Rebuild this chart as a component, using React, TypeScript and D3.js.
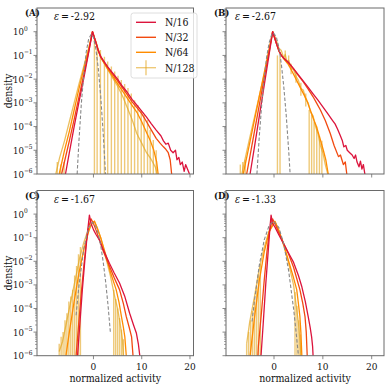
import React from 'react';
import * as d3 from 'd3';

type Pt = [number, number];
type Bar = [number, number, number];

const SERIES_NAMES = ['N/16', 'N/32', 'N/64', 'N/128'];
const SERIES_COLORS = ['#dc143c', '#f24a10', '#ff8c00', '#e3a51e'];
const PANEL_TAGS = ['(A)', '(B)', '(C)', '(D)'];
const EPSILONS = ['-2.92', '-2.67', '-1.67', '-1.33'];
const X_TICKS = [0, 10, 20];
const Y_EXPONENTS = [-6, -5, -4, -3, -2, -1, 0];

// ---- panel A (eps = -2.92), [activity, density]
const A_N16: Pt[] = [
  [-5.8, 1e-6], [-5.0, 7.9e-6], [-4.0, 1e-4], [-3.0, 1.1e-3], [-2.0, 1.1e-2], [-1.0, 0.13], [-0.2, 1.0],
  [0.5, 0.35], [1.0, 0.16], [1.5, 8.9e-2], [2.0, 6.3e-2], [3.0, 3.2e-2], [4.0, 1.8e-2], [5.0, 1.0e-2],
  [6.0, 5.0e-3], [7.0, 2.8e-3], [8.0, 1.4e-3], [9.0, 7.9e-4], [10.0, 4.5e-4], [11.0, 2.5e-4], [12.0, 1.3e-4],
  [13.0, 7.1e-5], [14.0, 4.0e-5], [14.5, 2.5e-5], [15.0, 1.8e-5], [15.5, 2.0e-5], [16.0, 1.0e-5], [16.5, 7.9e-6],
  [17.0, 1.0e-5], [17.3, 4.0e-6], [17.7, 5.0e-6], [18.0, 2.5e-6], [18.4, 3.2e-6], [18.8, 1.3e-6], [19.1, 2.5e-6],
  [19.5, 1.6e-6], [19.9, 1e-6],
];
const A_N32: Pt[] = [
  [-6.6, 1e-6], [-5.0, 2.5e-5], [-4.0, 2e-4], [-3.0, 1.8e-3], [-2.0, 1.6e-2], [-1.0, 0.14], [-0.2, 1.0],
  [0.5, 0.35], [1.0, 0.16], [1.5, 8.5e-2], [2.0, 6.0e-2], [3.0, 3.0e-2], [4.0, 1.6e-2], [5.0, 8.5e-3],
  [6.0, 4.3e-3], [7.0, 2.2e-3], [8.0, 1.1e-3], [9.0, 6.3e-4], [10.0, 3.5e-4], [11.0, 1.6e-4], [12.0, 7.1e-5],
  [13.0, 3.2e-5], [13.8, 2.0e-5], [14.5, 1.4e-5], [15.0, 1.1e-5], [15.5, 7.9e-6], [15.9, 4.0e-6], [16.2, 1e-6],
];
const A_N64: Pt[] = [
  [-7.1, 1e-6], [-6.0, 1e-5], [-5.0, 6.3e-5], [-4.0, 5e-4], [-3.0, 4e-3], [-2.0, 2.8e-2], [-1.0, 0.18], [-0.2, 1.0],
  [0.5, 0.35], [1.0, 0.16], [1.5, 8.3e-2], [2.0, 5.6e-2], [3.0, 2.6e-2], [4.0, 1.3e-2], [5.0, 6.3e-3],
  [6.0, 3.2e-3], [7.0, 1.6e-3], [8.0, 7.9e-4], [9.0, 4.0e-4], [10.0, 1.6e-4], [11.0, 5.6e-5], [11.8, 2.5e-5],
  [12.5, 1.0e-5], [13.1, 3.2e-6], [13.4, 1e-6],
];
const A_N128: Pt[] = [
  [-7.8, 1e-6], [-7.0, 5e-6], [-6.0, 2.5e-5], [-5.0, 1.6e-4], [-4.0, 1e-3], [-3.0, 6.3e-3], [-2.0, 3.5e-2],
  [-1.0, 0.2], [-0.2, 1.0], [0.5, 0.4], [1.0, 0.18], [2.0, 5.6e-2], [3.0, 2.5e-2], [4.0, 1.1e-2], [5.0, 5e-3],
  [6.0, 2e-3], [7.0, 6.3e-4], [8.0, 2e-4], [9.0, 5e-5], [10.0, 2e-5], [11.0, 7.9e-6], [12.0, 4e-6],
  [12.8, 2e-6], [13.2, 1e-6],
];
// error bars of N/128: [activity, upper end, lower end]
const A_BARS: Bar[] = [
  [-7.5, 3.2e-6, 1e-6], [-6.8, 2.5e-6, 1e-6], [-6.1, 3.2e-6, 1e-6],
  [0.2, 0.5, 1e-6], [0.76, 0.28, 1e-6], [1.44, 0.17, 1e-6], [2.27, 8.9e-2, 1e-6], [2.95, 5.5e-2, 1e-6],
  [3.71, 3.4e-2, 1e-6], [4.4, 2.1e-2, 1e-6], [5.08, 1.4e-2, 1e-6], [5.77, 9.3e-3, 1e-6], [6.46, 6.3e-3, 1e-6],
  [7.15, 4.2e-3, 1e-6], [7.84, 2.5e-3, 1e-6], [8.52, 1.3e-3, 1e-6], [9.2, 8.1e-4, 1e-6], [9.9, 5e-4, 1e-6],
  [10.5, 3.2e-4, 1e-6], [11.2, 1.9e-4, 1e-6], [11.75, 7.2e-5, 1e-6], [12.4, 2.7e-5, 1e-6], [13.0, 1e-5, 1e-6],
];
const A_GAUSS: Pt[] = [
  [-3.38, 1e-6], [-3.0, 2.6e-5], [-2.5, 1e-3], [-2.0, 1.7e-2], [-1.5, 0.14], [-1.0, 0.49], [-0.45, 0.79],
  [0.0, 0.58], [0.5, 0.19], [1.0, 2.8e-2], [1.5, 1.9e-3], [2.0, 5.8e-5], [2.5, 1e-6],
];

// ---- panel B (eps = -2.67)
const B_N16: Pt[] = [
  [-4.9, 1e-6], [-4.0, 1.4e-5], [-3.0, 2.8e-4], [-2.0, 5.6e-3], [-1.0, 0.11], [-0.27, 1.0],
  [0.5, 0.32], [1.0, 0.16], [1.5, 0.1], [2.0, 7.6e-2], [3.0, 5.0e-2], [4.0, 2.8e-2], [5.0, 1.5e-2],
  [6.0, 8.3e-3], [7.0, 4.5e-3], [8.0, 2.4e-3], [9.0, 1.3e-3], [10.0, 6.8e-4], [11.0, 3.5e-4], [12.0, 1.8e-4],
  [12.5, 1.3e-4], [13.0, 7.9e-5], [13.5, 4.5e-5], [14.0, 2.5e-5], [14.3, 1.4e-5], [14.7, 1.6e-5], [15.0, 1.0e-5],
  [15.5, 7.9e-6], [16.0, 6.3e-6], [16.4, 4.5e-6], [16.7, 6.3e-6], [17.0, 3.2e-6], [17.4, 2.0e-6], [17.7, 3.5e-6],
  [18.0, 1.6e-6], [18.3, 2.5e-6], [18.6, 1e-6],
];
const B_N32: Pt[] = [
  [-5.6, 1e-6], [-5.0, 4.7e-6], [-4.0, 6.3e-5], [-3.0, 8.5e-4], [-2.0, 1.1e-2], [-1.0, 0.15], [-0.27, 1.0],
  [0.5, 0.32], [1.0, 0.16], [1.5, 0.1], [2.0, 7.6e-2], [3.0, 4.8e-2], [4.0, 2.7e-2], [5.0, 1.4e-2],
  [6.0, 7.6e-3], [7.0, 3.8e-3], [8.0, 1.8e-3], [8.7, 1.0e-3], [9.5, 5.0e-4], [10.5, 1.8e-4], [11.5, 5.2e-5],
  [12.3, 1.6e-5], [13.2, 5.4e-6], [13.6, 6.3e-6], [14.2, 2.5e-6], [14.6, 3.2e-6], [14.9, 1e-6],
];
const B_N64: Pt[] = [
  [-6.3, 1e-6], [-5.0, 1.9e-5], [-4.0, 1.9e-4], [-3.0, 1.9e-3], [-2.0, 1.9e-2], [-1.0, 0.19], [-0.27, 1.0],
  [0.5, 0.32], [1.0, 0.15], [2.0, 7.1e-2], [3.0, 4.0e-2], [4.0, 1.6e-2], [5.0, 6.3e-3], [6.0, 2.5e-3],
  [6.7, 1.3e-3], [7.5, 4.5e-4], [8.2, 1.8e-4], [8.7, 1.0e-4], [9.4, 3.2e-5], [10.1, 1.0e-5], [10.6, 4.0e-6],
  [11.1, 1e-6],
];
const B_N128: Pt[] = [
  [-6.6, 1e-6], [-5.0, 3.2e-5], [-4.0, 2.5e-4], [-3.0, 2.0e-3], [-2.0, 1.6e-2], [-1.0, 0.13], [-0.3, 1.0],
  [0.3, 0.56], [0.7, 0.32], [1.0, 0.2], [1.5, 0.16], [2.0, 7.9e-2], [2.3, 0.11], [2.7, 5.0e-2], [3.0, 6.3e-2],
  [3.5, 2.8e-2], [4.0, 2.5e-2], [4.5, 1.3e-2], [5.0, 8.9e-3], [5.5, 4.0e-3], [6.0, 3.5e-3], [6.5, 1.4e-3],
  [7.0, 1.0e-3], [7.5, 4.0e-4], [8.0, 2.8e-4], [8.5, 1.0e-4], [9.0, 5.0e-5], [9.5, 1.6e-5], [10.0, 7.9e-6],
  [10.5, 2.5e-6], [11.0, 1e-6],
];
const B_BARS: Bar[] = [
  [-6.9, 2.5e-6, 1e-6], [-6.4, 3.2e-6, 1e-6], [-5.9, 4.0e-6, 1e-6],
  [0.7, 0.1, 1e-6], [1.23, 8.9e-2, 1e-6],
  [2.3, 0.16, 6.0e-2], [3.0, 0.1, 3.5e-2], [3.5, 4.5e-2, 1.6e-2], [4.5, 2.0e-2, 7.0e-3], [5.5, 7.0e-3, 2.0e-3],
  [6.5, 2.5e-3, 7.0e-4],
  [7.2, 5.0e-4, 1e-6], [7.7, 3.2e-4, 1e-6], [8.2, 1.6e-4, 1e-6], [8.75, 1.0e-4, 1e-6], [9.3, 4.0e-5, 1e-6],
  [9.8, 2.5e-5, 1e-6],
];
const B_GAUSS: Pt[] = [
  [-3.5, 1e-6], [-3.0, 4.2e-5], [-2.5, 9.5e-4], [-2.0, 1.2e-2], [-1.5, 8.7e-2], [-1.0, 0.34], [-0.5, 0.74],
  [-0.1, 0.89], [0.5, 0.58], [1.0, 0.21], [1.5, 4.3e-2], [2.0, 4.8e-3], [2.5, 3.0e-4], [3.0, 1.0e-5], [3.3, 1e-6],
];

// ---- panel C (eps = -1.67)
const C_N16: Pt[] = [
  [-3.3, 1e-6], [-2.8, 2.5e-5], [-2.3, 6.3e-4], [-1.8, 1e-2], [-1.3, 0.13], [-0.84, 0.9], [-0.5, 0.4],
  [0.0, 0.22], [0.5, 0.14], [1.25, 7.9e-2], [2.0, 3.2e-2], [3.3, 8.3e-3], [4.3, 3.2e-3], [5.4, 1.2e-3],
  [6.5, 3.2e-4], [7.5, 6.3e-5], [8.3, 2.0e-5], [8.9, 8.9e-6], [9.3, 3.2e-6], [9.6, 1e-6],
];
const C_N32: Pt[] = [
  [-3.6, 1e-6], [-3.0, 3.2e-5], [-2.5, 5e-4], [-2.0, 6.3e-3], [-1.5, 6.3e-2], [-1.0, 0.28], [-0.5, 0.63],
  [0.0, 0.4], [0.5, 0.22], [1.25, 7.9e-2], [2.0, 2.8e-2], [3.3, 6.3e-3], [4.3, 2.0e-3], [5.4, 6.3e-4],
  [6.2, 1.6e-4], [6.8, 4.5e-5], [7.4, 1.6e-5], [7.9, 6.3e-6], [8.2, 1e-6],
];
const C_N64: Pt[] = [
  [-5.7, 1e-6], [-5.0, 1e-5], [-4.0, 2e-4], [-3.0, 3.2e-3], [-2.0, 3.2e-2], [-1.0, 0.18], [-0.4, 0.4],
  [0.2, 0.5], [0.8, 0.25], [1.5, 0.1], [2.65, 1.6e-2], [3.5, 3.5e-3], [4.7, 6.3e-4], [5.3, 1.8e-4],
  [5.8, 4.5e-5], [6.2, 1.6e-5], [6.5, 6.3e-6], [6.8, 1e-6],
];
const C_N128: Pt[] = [
  [-7.1, 1.5e-6], [-6.4, 4e-6], [-5.7, 2e-5], [-5.0, 1e-4], [-4.3, 5e-4], [-3.6, 2.5e-3], [-2.9, 1.3e-2],
  [-2.0, 6.3e-2], [-1.0, 0.25], [0.2, 0.5], [0.8, 0.25], [1.5, 0.1], [2.5, 1.6e-2], [3.5, 2.5e-3],
  [4.3, 4e-4], [5.0, 1e-4], [5.5, 2.5e-5], [6.0, 5e-6], [6.2, 1e-6],
];
const C_BARS: Bar[] = [
  [-7.1, 3.2e-6, 1e-6], [-6.7, 6.3e-6, 1e-6], [-6.3, 1e-5, 1e-6], [-5.9, 3.2e-5, 1e-6], [-5.5, 6.3e-5, 1e-6],
  [-5.1, 2e-4, 1e-6], [-4.7, 3.2e-4, 1e-6], [-4.3, 6.3e-4, 1e-6], [-3.9, 2.5e-3, 1e-6], [-3.5, 6.3e-3, 1e-6],
  [-3.1, 2e-2, 1e-6], [-2.7, 4e-2, 1e-6],
  [4.2, 6.3e-4, 1e-6], [4.6, 2.5e-4, 1e-6], [5.0, 1e-4, 1e-6], [5.4, 4e-5, 1e-6], [5.8, 1.3e-5, 1e-6],
  [6.2, 5e-6, 1e-6],
];
const C_GAUSS: Pt[] = [
  [-3.6, 5.2e-5], [-3.0, 9.5e-4], [-2.0, 3.5e-2], [-1.0, 0.27], [-0.2, 0.45], [0.5, 0.3], [1.0, 0.145],
  [1.5, 4.7e-2], [2.0, 1e-2], [2.5, 1.5e-3], [3.0, 1.5e-4], [3.5, 1e-5],
];

// ---- panel D (eps = -1.33)
const D_N16: Pt[] = [
  [-2.66, 1e-6], [-2.2, 2.5e-5], [-1.7, 1e-3], [-1.2, 2.5e-2], [-0.8, 0.32], [-0.6, 0.9], [-0.3, 0.4],
  [0.2, 0.28], [1.0, 0.13], [1.9, 5.8e-2], [3.0, 2.2e-2], [3.95, 9.5e-3], [5.0, 2.5e-3], [5.7, 8.3e-4],
  [6.4, 2e-4], [7.0, 4.5e-5], [7.4, 1.6e-5], [7.7, 6.3e-6], [7.9, 2.5e-6], [8.0, 1e-6],
];
const D_N32: Pt[] = [
  [-3.3, 1e-6], [-3.2, 2.5e-6], [-2.5, 1e-4], [-2.0, 1.6e-3], [-1.5, 2e-2], [-1.0, 0.16], [-0.3, 0.63],
  [0.3, 0.35], [1.0, 0.16], [2.0, 5.6e-2], [3.0, 2e-2], [4.0, 5.6e-3], [5.3, 6.3e-4], [5.9, 1.6e-4],
  [6.35, 4.5e-5], [6.6, 1e-5], [6.8, 1e-6],
];
const D_N64: Pt[] = [
  [-4.9, 1e-6], [-4.0, 4e-5], [-3.0, 1.6e-3], [-2.0, 2.5e-2], [-1.0, 0.18], [0.2, 0.48], [1.0, 0.2],
  [2.0, 5e-2], [3.0, 1e-2], [4.0, 2e-3], [4.65, 6.3e-4], [5.0, 1.6e-4], [5.3, 4.5e-5], [5.5, 1e-5], [5.7, 1e-6],
];
const D_N128: Pt[] = [
  [-5.6, 3.2e-6], [-5.0, 2.5e-5], [-4.0, 3.2e-4], [-3.0, 5e-3], [-2.0, 4e-2], [-1.0, 0.2], [0.2, 0.5],
  [1.0, 0.2], [2.0, 4.5e-2], [3.0, 7.9e-3], [4.0, 1e-3], [4.5, 1.6e-4], [5.0, 2.5e-5], [5.3, 5e-6], [5.5, 1e-6],
];
const D_BARS: Bar[] = [
  [-5.6, 3.2e-6, 1e-6], [-5.2, 1e-5, 1e-6], [-4.8, 3.2e-5, 1e-6], [-4.4, 7.9e-5, 1e-6], [-4.0, 2.5e-4, 1e-6],
  [-3.6, 7.9e-4, 1e-6], [-3.2, 2.5e-3, 1e-6], [-2.8, 7.9e-3, 1e-6],
  [4.3, 5e-4, 1e-6], [4.7, 1.3e-4, 1e-6], [5.1, 3.2e-5, 1e-6], [5.4, 7.9e-6, 1e-6],
];
const D_GAUSS: Pt[] = [
  [-4.5, 2.8e-5], [-4.0, 2.2e-4], [-3.0, 7.1e-3], [-2.0, 8.1e-2], [-1.0, 0.33], [-0.1, 0.5], [1.0, 0.27],
  [2.0, 5.4e-2], [3.0, 3.9e-3], [4.0, 1e-4], [4.5, 1.1e-5], [5.0, 1e-6],
];

const CURVES = [
  [A_N16, A_N32, A_N64, A_N128],
  [B_N16, B_N32, B_N64, B_N128],
  [C_N16, C_N32, C_N64, C_N128],
  [D_N16, D_N32, D_N64, D_N128],
];
const BARS = [A_BARS, B_BARS, C_BARS, D_BARS];
const GAUSS = [A_GAUSS, B_GAUSS, C_GAUSS, D_GAUSS];

// layout (pixels)
const COLS = [
  { left: 37, right: 193.5, domain: [-11.7, 20.73] },
  { left: 226, right: 384, domain: [-9.83, 22.52] },
];
const ROWS = [
  { top: 8, bottom: 174 },
  { top: 190.5, bottom: 355.7 },
];

const FONT = "'DejaVu Serif Condensed', 'DejaVu Serif', serif";
const SPINE = '#6a6a6a';
const txt = { fontFamily: FONT, fill: '#111' };

function Panel({ idx }: { idx: number }) {
  const col = COLS[idx % 2];
  const row = ROWS[Math.floor(idx / 2)];
  const showY = idx % 2 === 0;
  const showX = idx >= 2;

  const x = d3.scaleLinear().domain(col.domain).range([col.left, col.right]);
  const y = d3.scaleLog().domain([1e-6, 10]).range([row.bottom, row.top]);
  const line = d3
    .line<Pt>()
    .x(d => x(d[0]))
    .y(d => y(d[1]));

  const clipId = `clip-${idx}`;
  const minor: number[] = [];
  Y_EXPONENTS.forEach(e => {
    for (let k = 2; k <= 9; k++) minor.push(k * Math.pow(10, e));
  });

  const curves = CURVES[idx];
  const barColor = SERIES_COLORS[3];

  return (
    <g>
      <defs>
        <clipPath id={clipId}>
          <rect x={col.left} y={row.top} width={col.right - col.left} height={row.bottom - row.top} />
        </clipPath>
      </defs>

      <g clipPath={`url(#${clipId})`}>
        {/* N/128 error bars */}
        {BARS[idx].map((b, i) => (
          <line
            key={`b${i}`}
            x1={x(b[0])}
            x2={x(b[0])}
            y1={y(b[1])}
            y2={y(b[2])}
            stroke={barColor}
            strokeOpacity={0.6}
            strokeWidth={1.4}
          />
        ))}
        {[3, 2, 1, 0].map(s => (
          <path
            key={`c${s}`}
            d={line(curves[s]) ?? ''}
            fill="none"
            stroke={SERIES_COLORS[s]}
            strokeOpacity={s === 3 ? 0.7 : 1}
            strokeWidth={1.3}
            strokeLinejoin="round"
          />
        ))}
        <path
          d={line(GAUSS[idx]) ?? ''}
          fill="none"
          stroke="#888"
          strokeWidth={1.1}
          strokeDasharray="3.5,2"
        />
      </g>

      {/* spines */}
      <rect
        x={col.left}
        y={row.top}
        width={col.right - col.left}
        height={row.bottom - row.top}
        fill="none"
        stroke={SPINE}
        strokeWidth={1}
      />

      {/* y ticks */}
      {minor.map((v, i) => (
        <line key={`m${i}`} x1={col.left - 2} x2={col.left} y1={y(v)} y2={y(v)} stroke={SPINE} strokeWidth={0.6} />
      ))}
      {Y_EXPONENTS.map(e => (
        <g key={`y${e}`}>
          <line x1={col.left - 3.5} x2={col.left} y1={y(Math.pow(10, e))} y2={y(Math.pow(10, e))} stroke={SPINE} strokeWidth={0.8} />
          {showY && (
            <text x={13} y={y(Math.pow(10, e)) + 3.5} style={{ ...txt, fontSize: 9.5 }}>
              10
              <tspan dy={-4.5} style={{ fontSize: 6.5 }}>
                {e === 0 ? '0' : `\u2212${-e}`}
              </tspan>
            </text>
          )}
        </g>
      ))}

      {/* x ticks */}
      {X_TICKS.map(t => (
        <g key={`x${t}`}>
          <line x1={x(t)} x2={x(t)} y1={row.bottom} y2={row.bottom + 3.5} stroke={SPINE} strokeWidth={0.8} />
          {showX && (
            <text x={x(t)} y={row.bottom + 14} textAnchor="middle" style={{ ...txt, fontSize: 10 }}>
              {t}
            </text>
          )}
        </g>
      ))}

      {showX && (
        <text
          x={(col.left + col.right) / 2}
          y={row.bottom + 26.5}
          textAnchor="middle"
          style={{ ...txt, fontSize: 10.5 }}
        >
          normalized activity
        </text>
      )}
      {showY && (
        <text
          transform={`translate(11.5,${(row.top + row.bottom) / 2}) rotate(-90)`}
          textAnchor="middle"
          style={{ ...txt, fontSize: 10.5 }}
        >
          density
        </text>
      )}

      <text x={col.left - 12} y={row.top + 8} style={{ ...txt, fontSize: 9.5, fontWeight: 'bold' }}>
        {PANEL_TAGS[idx]}
      </text>
      <text x={col.left + (showY ? 17 : 9)} y={row.top + 12} style={{ ...txt, fontSize: 10.5 }}>
        <tspan style={{ fontStyle: 'italic' }}>ε</tspan>
        {`\u2009=\u2009${EPSILONS[idx]}`}
      </text>
    </g>
  );
}

function Legend() {
  const left = 131;
  const top = 13;
  const rowY = [22.3, 37.3, 52.3, 67.7];
  return (
    <g>
      <rect x={left} y={top} width={66} height={65} rx={2.5} fill="white" fillOpacity={0.8} stroke="#d5d5d5" strokeWidth={0.8} />
      {SERIES_NAMES.map((name, i) => (
        <g key={name}>
          <line
            x1={136}
            x2={156}
            y1={rowY[i]}
            y2={rowY[i]}
            stroke={SERIES_COLORS[i]}
            strokeOpacity={i === 3 ? 0.6 : 1}
            strokeWidth={1.4}
          />
          {i === 3 && (
            <line x1={146} x2={146} y1={rowY[i] - 7.5} y2={rowY[i] + 7.5} stroke={SERIES_COLORS[i]} strokeOpacity={0.6} strokeWidth={1.4} />
          )}
          <text x={165} y={rowY[i] + 4} style={{ ...txt, fontSize: 10.5 }}>
            {name}
          </text>
        </g>
      ))}
    </g>
  );
}

export default function App() {
  return (
    <svg
      width={390}
      height={390}
      viewBox="0 0 390 390"
      style={{ position: 'absolute', left: 0, top: 0, background: '#fff' }}
    >
      {[0, 1, 2, 3].map(i => (
        <Panel key={i} idx={i} />
      ))}
      <Legend />
    </svg>
  );
}
